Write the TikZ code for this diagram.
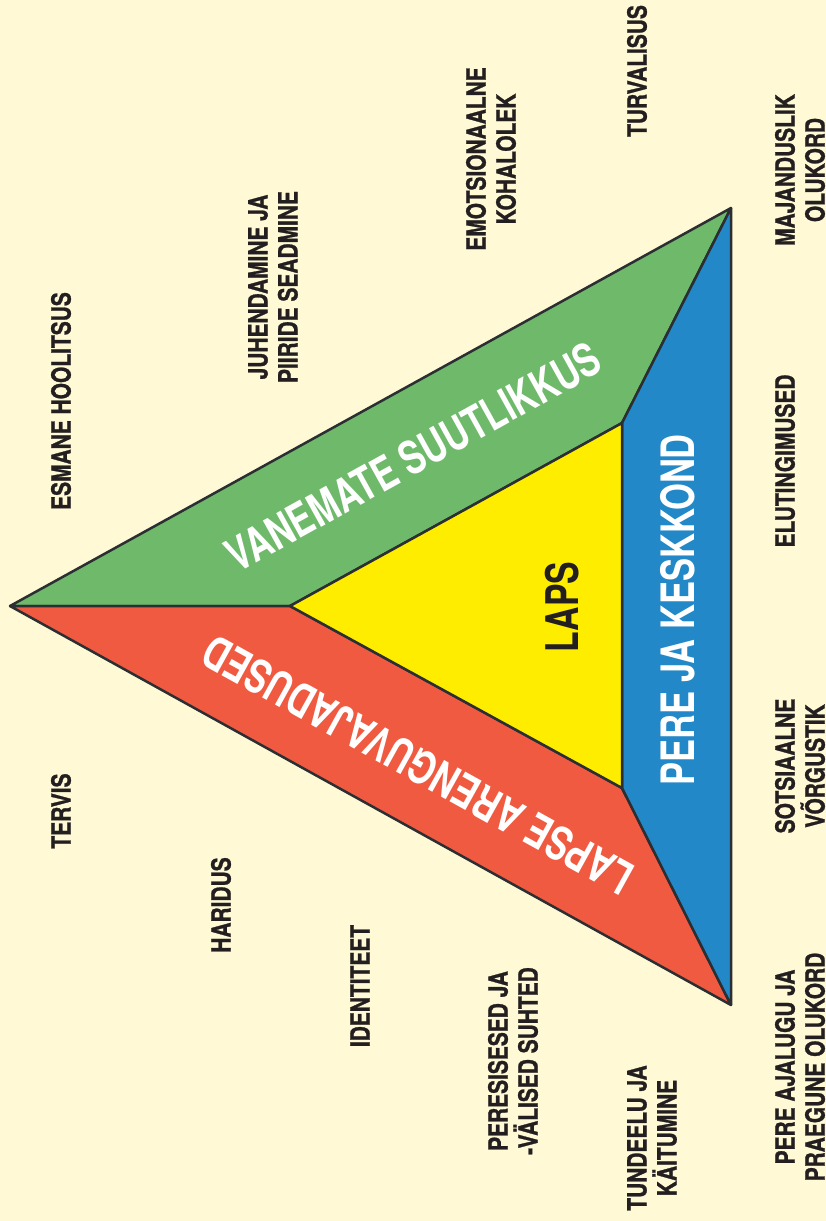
\documentclass[tikz,border=0pt]{standalone}
\usepackage{fontspec}
\usepackage{xcolor}
\setmainfont{TeX Gyre Heros}
\newfontfamily\factorfont{TeX Gyre Heros}[FakeStretch=0.79, FakeBold=1]
\newfontfamily\bandfont{TeX Gyre Heros}[FakeStretch=0.75]
\definecolor{triback}{RGB}{255, 250, 213}
\definecolor{trigreen}{RGB}{111, 185, 106}
\definecolor{trired}{RGB}{239, 90, 64}
\definecolor{triblue}{RGB}{34, 136, 200}
\definecolor{triyellow}{RGB}{255, 237, 0}
\definecolor{triline}{RGB}{43, 46, 51}
\definecolor{tritext}{RGB}{35, 31, 32}
\tikzstyle{region} = [draw=triline, line width=2.5pt, line join=round]
\tikzstyle{factor} = [rotate=90, align=center, inner sep=0pt, text=tritext, font=\factorfont\bfseries\fontsize{26.5}{30}\selectfont]
\tikzstyle{band} = [inner sep=0pt, text=white, font=\bandfont\bfseries\fontsize{46}{50}\selectfont]

\begin{document}
\begin{tikzpicture}[x=1pt, y=-1pt]
                \fill[triback] (0,0) rectangle (826,1221);
                \useasboundingbox (0,0) rectangle (826,1221);

                % corners of the two triangles
                \coordinate (apex) at (10,606);
                \coordinate (top) at (731,208);
                \coordinate (bottom) at (731,1005);
                \coordinate (inleft) at (290,606);
                \coordinate (intop) at (622,423);
                \coordinate (inbottom) at (622,788);

                \filldraw[region, fill=trigreen] (apex) -- (top) -- (intop) -- (inleft) -- cycle;
                \filldraw[region, fill=trired] (apex) -- (inleft) -- (inbottom) -- (bottom) -- cycle;
                \filldraw[region, fill=triblue] (top) -- (bottom) -- (inbottom) -- (intop) -- cycle;
                \filldraw[region, fill=triyellow] (inleft) -- (intop) -- (inbottom) -- cycle;

                \node[band, rotate=29] (vanemate) at (413,457) {VANEMATE SUUTLIKKUS};
                \node[band, rotate=151] (lapse) at (418,765) {LAPSE ARENGUVAJADUSED};
                \node[band, rotate=90] (pere) at (678,610) {PERE JA KESKKOND};
                \node[band, rotate=90, text=tritext, font=\bandfont\bfseries\fontsize{45}{50}\selectfont] (laps) at (562,607) {LAPS};

                \node[factor] (esmane) at (61,401) {ESMANE HOOLITSUS};
                \node[factor] (tervis) at (61,811) {TERVIS};
                \node[factor] (juhendamine) at (273,287) {JUHENDAMINE JA\\PIIRIDE SEADMINE};
                \node[factor] (haridus) at (221,905) {HARIDUS};
                \node[factor] (identiteet) at (360,986) {IDENTITEET};
                \node[factor] (emotsionaalne) at (491,159) {EMOTSIONAALNE\\KOHALOLEK};
                \node[factor] (suhted) at (513,1061) {PERESISESED JA\\-VÄLISED SUHTED};
                \node[factor] (turvalisus) at (637,71) {TURVALISUS};
                \node[factor] (tundeelu) at (652,1138) {TUNDEELU JA\\KÄITUMINE};
                \node[factor] (majanduslik) at (800,170) {MAJANDUSLIK\\OLUKORD};
                \node[factor] (elutingimused) at (785,461) {ELUTINGIMUSED};
                \node[factor] (sotsiaalne) at (800,766) {SOTSIAALNE\\VÕRGUSTIK};
                \node[factor] (ajalugu) at (800,1067) {PERE AJALUGU JA\\PRAEGUNE OLUKORD};
            \end{tikzpicture}
\end{document}
